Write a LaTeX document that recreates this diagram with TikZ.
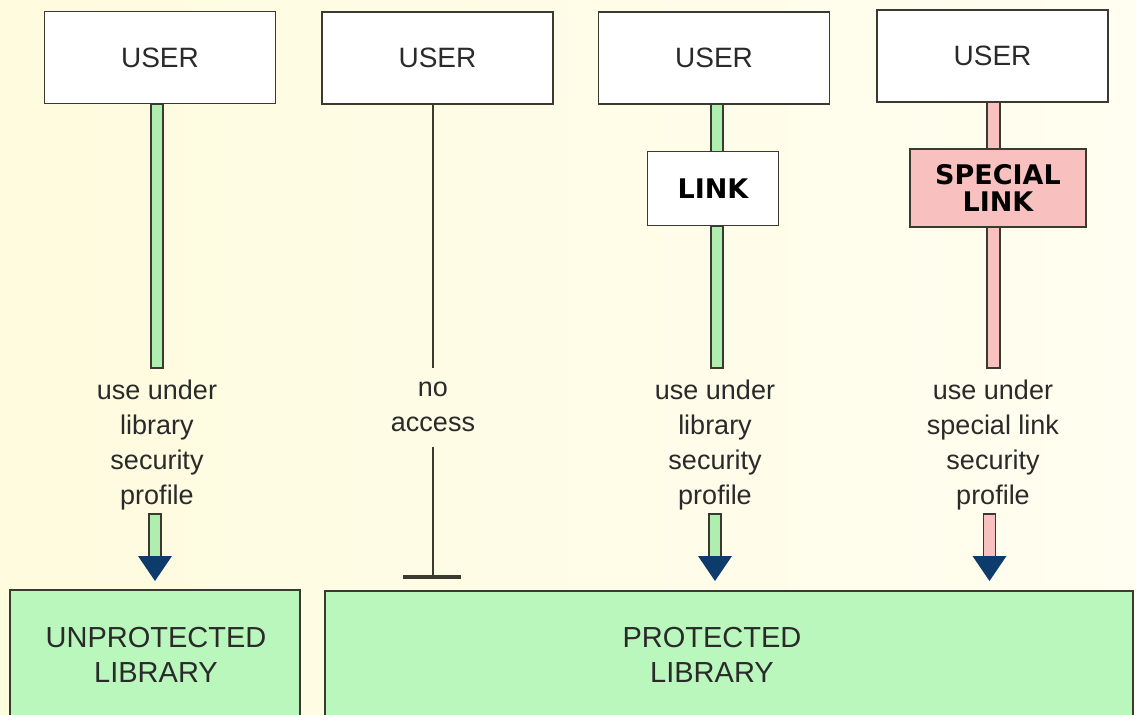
\documentclass[tikz,border=0pt]{standalone}
\usepackage{fontspec}
\setmainfont{Liberation Sans}
\newfontfamily\blackfont{DejaVu Sans}
\definecolor{bgl}{HTML}{FEFBDE}
\definecolor{bgr}{HTML}{FFFEF0}
\definecolor{grn}{HTML}{B0EEB0}
\definecolor{libg}{HTML}{B9F7BD}
\definecolor{pnk}{HTML}{F9C0C0}
\definecolor{navy}{HTML}{0C3B6C}
\definecolor{edge}{HTML}{3A3A30}
\definecolor{txt}{HTML}{2A2A2A}
\newcommand{\holarrow}[2]{%
  \draw[bar,fill=#2] ({#1-6},514) rectangle ({#1+6},557);
  \fill[navy] ({#1-17},556) -- ({#1+17},556) -- (#1,581) -- cycle;}
\begin{document}
\begin{tikzpicture}[x=1pt,y=-1pt,
  userbox/.style={draw=edge, line width=1.8pt, fill=white, minimum width=231pt, minimum height=92pt, inner sep=0pt, text=txt, font=\fontsize{28}{32}\selectfont},
  linkbox/.style={draw=edge, line width=1.8pt, inner sep=0pt, text=black, font=\blackfont\bfseries\fontsize{27}{27}\selectfont, align=center},
  lbl/.style={font=\fontsize{27}{35}\selectfont, text=txt, align=center, inner sep=0pt},
  libbox/.style={draw=edge, line width=1.8pt, fill=libg, inner sep=0pt},
  libtext/.style={font=\fontsize{29}{35}\selectfont, text=txt, align=center, inner sep=0pt},
  bar/.style={draw=edge, line width=1.5pt},
  thinline/.style={draw=edge, line width=1.6pt}]
\useasboundingbox (0,0) rectangle (1136,715);
\clip (0,0) rectangle (1136,715);
\shade[left color=bgl, right color=bgr] (0,0) rectangle (1136,715);

% coordinates for bars
\coordinate (b1t) at (157,104);
\coordinate (b1b) at (157,368);
\coordinate (b3t) at (717,104);
\coordinate (b3m) at (717,152);
\coordinate (b3n) at (717,226);
\coordinate (b3b) at (717,368);
\coordinate (b4t) at (993.5,102);
\coordinate (b4m) at (993.5,149);
\coordinate (b4n) at (993.5,227);
\coordinate (b4b) at (993.5,368);

% bars
\draw[bar,fill=grn] ([xshift=-6pt]b1t) rectangle ([xshift=6pt]b1b);
\draw[bar,fill=grn] ([xshift=-6pt]b3t) rectangle ([xshift=6pt]b3m);
\draw[bar,fill=grn] ([xshift=-6pt]b3n) rectangle ([xshift=6pt]b3b);
\draw[bar,fill=pnk] ([xshift=-6.5pt]b4t) rectangle ([xshift=6.5pt]b4m);
\draw[bar,fill=pnk] ([xshift=-6.5pt]b4n) rectangle ([xshift=6.5pt]b4b);

% user boxes
\node[userbox] (u1) at (160,57.5) {USER};
\node[userbox] (u2) at (437.5,58) {USER};
\node[userbox] (u3) at (714,58) {USER};
\node[userbox] (u4) at (992.5,56) {USER};

% link boxes
\node[linkbox, fill=white, minimum width=131pt, minimum height=74pt] (lnk) at (713,188.5) {LINK};
\node[linkbox, fill=pnk, minimum width=176pt, minimum height=78pt] (slnk) at (998,188) {SPECIAL\\LINK};

% labels
\node[lbl] (l1) at (157,445) {use under\\library\\security\\profile};
\node[lbl] (l2) at (433,407) {no\\access};
\node[lbl] (l3) at (715,445) {use under\\library\\security\\profile};
\node[lbl] (l4) at (993,445) {use under\\special link\\security\\profile};

% no access line
\coordinate (c2a) at (433,104);
\coordinate (c2b) at (433,368);
\coordinate (c2c) at (433,447);
\coordinate (c2d) at (433,577);
\draw[thinline] (c2a) -- (c2b);
\draw[thinline] (c2c) -- (c2d);
\draw[draw=edge, line width=3.5pt] ([xshift=-30pt]c2d) -- ([xshift=28pt]c2d);

% hollow arrows
\holarrow{155}{grn}
\holarrow{715}{grn}
\holarrow{989.5}{pnk}

% libraries
\node[libbox, minimum width=290pt, minimum height=130pt] (ulib) at (155,655) {};
\node[libtext] (ult) at (156,655) {UNPROTECTED\\LIBRARY};
\node[libbox, minimum width=808pt, minimum height=130pt] (plib) at (729,656) {};
\node[libtext] (plt) at (712,655) {PROTECTED\\LIBRARY};
\end{tikzpicture}
\end{document}
